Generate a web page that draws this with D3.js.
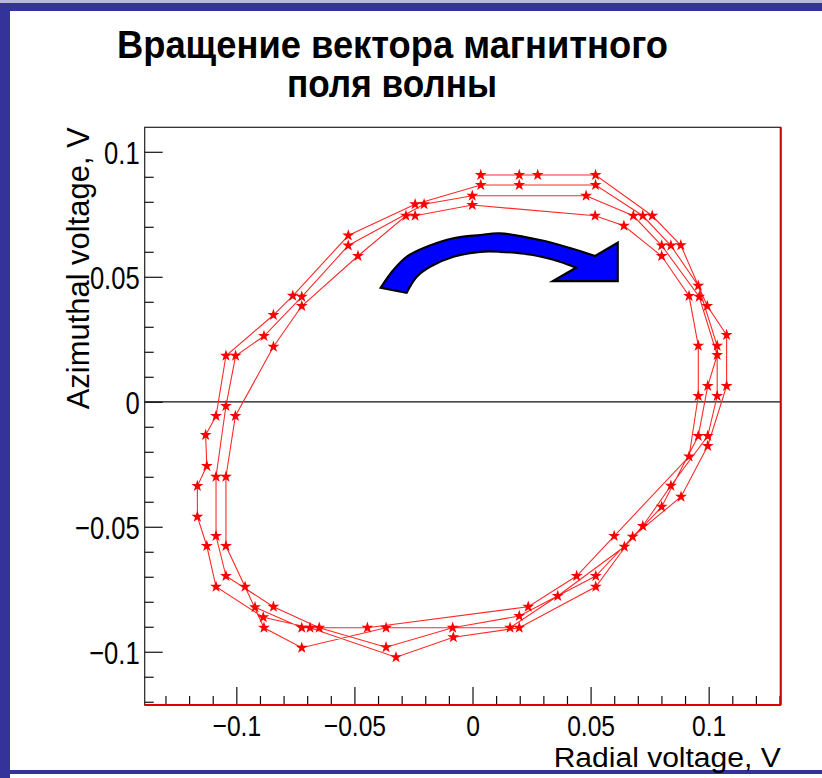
<!DOCTYPE html>
<html><head><meta charset="utf-8">
<script src="https://cdn.jsdelivr.net/npm/d3@7"></script>
<style>
html,body{margin:0;padding:0;background:#fff;}
svg{display:block;}
text{font-family:"Liberation Sans",Arial,Helvetica,sans-serif;}
</style></head>
<body>
<svg id="c" width="822" height="778"></svg>
<script>
// ---- data (V) ----
const titleLines = ["Вращение вектора магнитного", "поля волны"];
const xAxisTitle = "Radial voltage, V";
const yAxisTitle = "Azimuthal voltage, V";
const majorTicks = [-0.1, -0.05, 0, 0.05, 0.1];
const majorTickLabels = ["\u22120.1", "\u22120.05", "0", "0.05", "0.1"];
const xMinorTicks = [-0.13,-0.12,-0.11,-0.09,-0.08,-0.07,-0.06,-0.04,-0.03,-0.02,-0.01,0.01,0.02,0.03,0.04,0.06,0.07,0.08,0.09,0.11,0.12,0.13];
const yMinorTicks = [-0.12,-0.11,-0.09,-0.08,-0.07,-0.06,-0.04,-0.03,-0.02,-0.01,0.01,0.02,0.03,0.04,0.06,0.07,0.08,0.09];
const xRange = [-0.1388, 0.1305];
const yRange = [-0.1213, 0.1098];

// radial (x) and azimuthal (y) voltages, in recording order
const radialV = [
  0.0035, 0.0198, 0.0276, 0.0521, 0.0761, 0.0882, 0.0994, 0.1076, 0.1076, 0.0996,
  0.0883, 0.0678, 0.0522, 0.0198, -0.0081, -0.0324, -0.0688, -0.0886, -0.1086, -0.1125,
  -0.1165, -0.1165, -0.1125, -0.1130, -0.1086, -0.1044, -0.0843, -0.0761, -0.0526, -0.0243,
  0.0035, 0.0198, 0.0521, 0.0721, 0.0840, 0.0956, 0.1036, 0.1036, 0.0996, 0.0840,
  0.0721, 0.0522, 0.0198, -0.0084, -0.0366, -0.0649, -0.0843, -0.1044, -0.1086, -0.1086,
  -0.1044, -0.1003, -0.0883, -0.0723, -0.0526, -0.0205,
  -0.0001, 0.0481, 0.0681, 0.0801, 0.0960, 0.1036, 0.0996, 0.0956, 0.0801, 0.0643,
  0.0361, 0.0159, -0.0366, -0.0723, -0.0883, -0.0963, -0.1044, -0.1044, -0.1004, -0.0843,
  -0.0723, -0.0485, -0.0282,
  -0.0243, -0.0001, 0.0519, 0.0641, 0.0801, 0.0917, 0.0956, 0.0956, 0.0917, 0.0600,
  0.0441, 0.0236, -0.0445, -0.0723, -0.0921
];
const azimuthalV = [
  0.0907, 0.0907, 0.0907, 0.0907, 0.0744, 0.0626, 0.0383, 0.0267, 0.0063, -0.0177,
  -0.0380, -0.0540, -0.0740, -0.0904, -0.0942, -0.1022, -0.0904, -0.0862, -0.0740, -0.0577,
  -0.0460, -0.0337, -0.0257, -0.0133, -0.0057, 0.0184, 0.0347, 0.0424, 0.0665, 0.0790,
  0.0867, 0.0867, 0.0867, 0.0744, 0.0625, 0.0464, 0.0224, 0.0023, -0.0137, -0.0336,
  -0.0497, -0.0697, -0.0857, -0.0904, -0.0982, -0.0904, -0.0820, -0.0697, -0.0537, -0.0300,
  -0.0017, 0.0184, 0.0263, 0.0420, 0.0625, 0.0790,
  0.0824, 0.0824, 0.0744, 0.0625, 0.0420, 0.0187, 0.0063, -0.0137, -0.0420, -0.0580,
  -0.0777, -0.0904, -0.0904, -0.0984, -0.0904, -0.0740, -0.0577, -0.0300, -0.0057, 0.0220,
  0.0383, 0.0583, 0.0744,
  0.0744, 0.0787, 0.0744, 0.0704, 0.0583, 0.0423, 0.0224, 0.0023, -0.0219, -0.0537,
  -0.0697, -0.0820, -0.0904, -0.0904, -0.0822
];

// rotation arrow annotation (data coordinates)
const arrowOuterX = [-0.0389,-0.0335,-0.0279,-0.0194,-0.0081,0.0032,0.0116,0.0286,0.0413,0.0519];
const arrowOuterY = [0.0456,0.0527,0.0580,0.0620,0.0654,0.0667,0.0674,0.0647,0.0615,0.0583];
const arrowHeadX = [0.0615,0.0615,0.0340,0.0438];
const arrowHeadY = [0.0636,0.0483,0.0483,0.0536];
const arrowInnerX = [0.0438,0.0370,0.0256,0.0116,0.0032,-0.0081,-0.0180,-0.0236,-0.0279];
const arrowInnerY = [0.0536,0.0560,0.0587,0.0600,0.0600,0.0580,0.0540,0.0500,0.0436];

// ---- drawing ----
const svg = d3.select("#c");
const W = 822, H = 778;
const plot = {l:144.7, r:780.7, t:127.3, b:705};

svg.append("rect").attr("x",0).attr("y",0).attr("width",W).attr("height",H).attr("fill","#fff");
// canvas border
svg.append("rect").attr("x",0).attr("y",0).attr("width",W).attr("height",3).attr("fill","#b8b8dc");
svg.append("rect").attr("x",0).attr("y",3).attr("width",W).attr("height",8).attr("fill","#333399");
svg.append("rect").attr("x",0).attr("y",3).attr("width",10).attr("height",H-3).attr("fill","#333399");
svg.append("rect").attr("x",0).attr("y",H-8).attr("width",W).attr("height",4).attr("fill","#333399");

const x = d3.scaleLinear().domain(xRange).range([plot.l, plot.r]);
const y = d3.scaleLinear().domain(yRange).range([plot.b, plot.t]);

function condense(sel, k){
  sel.each(function(){
    const w = this.getComputedTextLength();
    d3.select(this).attr("textLength", w*k).attr("lengthAdjust","spacingAndGlyphs");
  });
}

// frame
svg.append("rect").attr("x",plot.l).attr("y",plot.t).attr("width",plot.r-plot.l).attr("height",plot.b-plot.t)
  .attr("fill","none").attr("stroke","#222").attr("stroke-width",1.2);

// zero line
svg.append("line").attr("x1",plot.l).attr("x2",plot.r).attr("y1",y(0)).attr("y2",y(0))
  .attr("stroke","#111").attr("stroke-width",1.2);

// axes
const fmt = d => majorTickLabels[majorTicks.findIndex(v => Math.abs(v-d)<1e-9)];
const xAx = svg.append("g").attr("transform",`translate(0,${plot.b})`)
  .call(d3.axisBottom(x).tickValues(majorTicks).tickSize(-18).tickPadding(10).tickFormat(fmt));
const xAxMin = svg.append("g").attr("transform",`translate(0,${plot.b})`)
  .call(d3.axisBottom(x).tickValues(xMinorTicks).tickSize(-9).tickFormat(""));
const yAx = svg.append("g").attr("transform",`translate(${plot.l},0)`)
  .call(d3.axisLeft(y).tickValues(majorTicks).tickSize(-18).tickPadding(5).tickFormat(fmt));
const yAxMin = svg.append("g").attr("transform",`translate(${plot.l},0)`)
  .call(d3.axisLeft(y).tickValues(yMinorTicks).tickSize(-9).tickFormat(""));
[xAx,xAxMin,yAx,yAxMin].forEach(g => {
  g.select(".domain").remove();
  g.selectAll(".tick line").attr("stroke","#111").attr("stroke-width",1.2);
});
xAx.selectAll("text").attr("font-size",30).attr("fill","#000").attr("dy","0.71em")
  .attr("font-family","Liberation Sans, Arial, sans-serif").call(condense,0.82);
yAx.selectAll("text").attr("font-size",32).attr("fill","#000").attr("dy","0.36em")
  .attr("font-family","Liberation Sans, Arial, sans-serif").call(condense,0.8);

// red right/bottom frame edges
svg.append("line").attr("x1",plot.r).attr("x2",plot.r).attr("y1",plot.t).attr("y2",plot.b)
  .attr("stroke","#d00000").attr("stroke-width",2);
svg.append("line").attr("x1",plot.l).attr("x2",plot.r).attr("y1",plot.b).attr("y2",plot.b)
  .attr("stroke","#e00000").attr("stroke-width",2);

// data
const pts = radialV.map((v,i)=>[v, azimuthalV[i]]);
const line = d3.line().x(d=>x(d[0])).y(d=>y(d[1]));
svg.append("path").attr("d", line(pts)).attr("fill","none").attr("stroke","#ff2a2a").attr("stroke-width",1.1);
svg.append("g").selectAll("path").data(pts).join("path")
  .attr("transform", d=>`translate(${x(d[0])},${y(d[1])})`)
  .attr("d", d3.symbol(d3.symbolStar, 44))
  .attr("fill","#ff0000");

// arrow
const curve = d3.line().x(d=>x(d[0])).y(d=>y(d[1])).curve(d3.curveCatmullRom);
const straight = d3.line().x(d=>x(d[0])).y(d=>y(d[1]));
const outer = arrowOuterX.map((v,i)=>[v, arrowOuterY[i]]);
const head = arrowHeadX.map((v,i)=>[v, arrowHeadY[i]]);
const inner = arrowInnerX.map((v,i)=>[v, arrowInnerY[i]]);
const dPath = curve(outer) + straight(head).replace(/^M/,"L") + curve(inner).replace(/^M/,"L") + "Z";
svg.append("path").attr("d", dPath).attr("fill","#0000ff").attr("stroke","#000").attr("stroke-width",2.2)
  .attr("stroke-linejoin","miter");

// titles
svg.append("text").attr("x",392.5).attr("y",58).attr("text-anchor","middle")
  .attr("font-size",39).attr("font-weight","bold").text(titleLines[0])
  .attr("textLength",551).attr("lengthAdjust","spacingAndGlyphs");
svg.append("text").attr("x",392).attr("y",97).attr("text-anchor","middle")
  .attr("font-size",39).attr("font-weight","bold").text(titleLines[1])
  .attr("textLength",210).attr("lengthAdjust","spacingAndGlyphs");

svg.append("text").attr("x",plot.r).attr("y",767).attr("text-anchor","end")
  .attr("font-size",27).text(xAxisTitle)
  .attr("textLength",227).attr("lengthAdjust","spacingAndGlyphs");
svg.append("text").attr("transform",`translate(89,${plot.t}) rotate(-90)`).attr("text-anchor","end")
  .attr("font-size",32).text(yAxisTitle)
  .attr("textLength",282).attr("lengthAdjust","spacingAndGlyphs");
</script>
</body></html>
